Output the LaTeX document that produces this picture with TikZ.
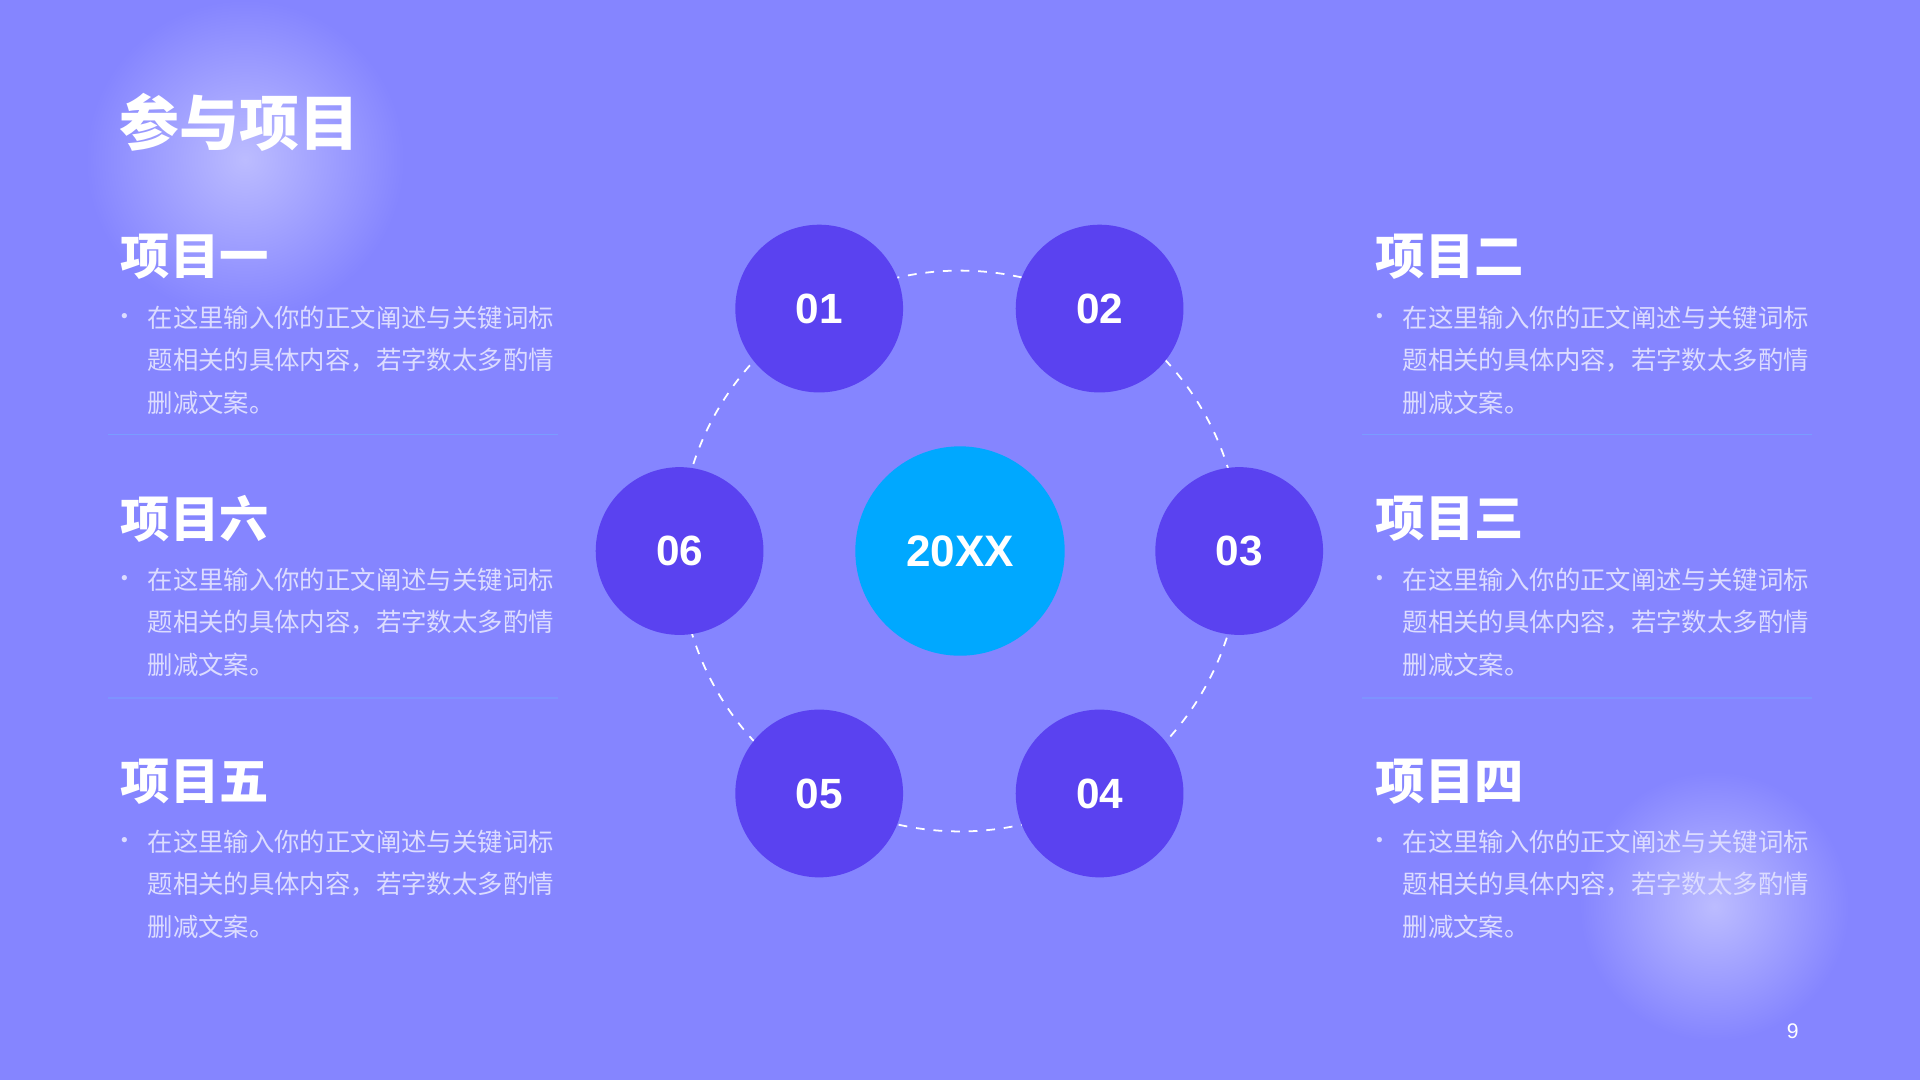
\documentclass[tikz,border=0pt]{standalone}
\usepackage{fontspec}
\setmainfont{Noto Sans CJK SC}
\newfontfamily\numfont{Liberation Sans}
\usetikzlibrary{positioning}
\definecolor{bgblue}{HTML}{8585FF}
\definecolor{ballblue}{HTML}{5A42F0}
\definecolor{coreblue}{HTML}{00A8FF}
\definecolor{bodytext}{HTML}{DCDCFF}
\definecolor{rulecol}{HTML}{7A9CFF}
\newcommand{\pxu}{0.0122cm}
\tikzset{
  ball/.style={circle, fill=ballblue, minimum size=137*\pxu, inner sep=0pt, text=white, font=\numfont\bfseries\fontsize{12}{12}\selectfont},
  core/.style={circle, fill=coreblue, minimum size=171*\pxu, inner sep=0pt, text=white, font=\numfont\bfseries\fontsize{12.5}{12.5}\selectfont},
  head/.style={anchor=west, text=white, font=\bfseries\fontsize{14}{14}\selectfont, inner sep=0pt},
  body/.style={anchor=north west, text=bodytext, align=left, font=\fontsize{7.2}{12.1}\selectfont, inner sep=0pt},
  dot/.style={anchor=center, text=bodytext, font=\fontsize{7}{7}\selectfont, inner sep=0pt}
}
\newcommand{\bodytxt}{在这里输入你的正文阐述与关键词标\\题相关的具体内容，若字数太多酌情\\删减文案。}
\begin{document}
\begin{tikzpicture}[x=0.0122cm, y=-0.0122cm]
  \fill[bgblue] (0,0) rectangle (1568,882);
  \useasboundingbox (0,0) rectangle (1568,882);
  % soft glows
  \shade[inner color=white!45!bgblue, outer color=bgblue] (200,130) circle (130);
  \shade[inner color=white!45!bgblue, outer color=bgblue] (1400,740) circle (110);
  % title
  \node[head, font=\bfseries\fontsize{17}{17}\selectfont] (title) at (97,100) {参与项目};
  % ring
  \draw[white, line width=0.5pt, dash pattern=on 2.5pt off 2.5pt] (784,450) circle (229);
  \node[core] (c) at (784,450) {20XX};
  \node[ball] (b1) at (669,252) {01};
  \node[ball] (b2) at (898,252) {02};
  \node[ball] (b3) at (1012,450) {03};
  \node[ball] (b4) at (898,648) {04};
  \node[ball] (b5) at (669,648) {05};
  \node[ball] (b6) at (555,450) {06};
  % text columns
  \node[head] (h1) at (98,210) {项目一};
  \node[head] (h6) at (98,424) {项目六};
  \node[head] (h5) at (98,638) {项目五};
  \node[head] (h2) at (1123,210) {项目二};
  \node[head] (h3) at (1123,424) {项目三};
  \node[head] (h4) at (1123,638) {项目四};
  \foreach \x/\y in {98/261, 98/475, 98/689, 1123/261, 1123/475, 1123/689} {
    \node[dot] at (\x+4,\y) {•};
    \node[body] at (\x+22,\y-12) {\bodytxt};
  }
  \foreach \x in {88, 1112} {
    \draw[rulecol, line width=0.4pt] (\x,355) -- (\x+368,355);
    \draw[rulecol!60!bgblue, line width=0.4pt] (\x,570) -- (\x+368,570);
  }
  \node[text=white, font=\numfont\fontsize{6}{6}\selectfont] (pg) at (1464,842) {9};
\end{tikzpicture}
\end{document}
